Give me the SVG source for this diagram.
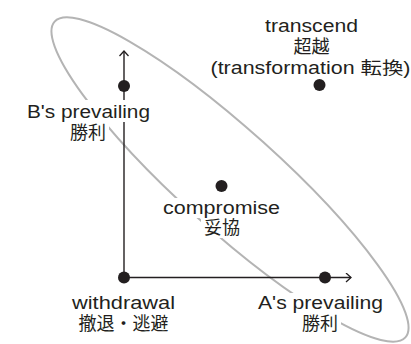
<svg xmlns="http://www.w3.org/2000/svg" width="411" height="344" viewBox="0 0 411 344">
<style>
.lat{font-family:"Liberation Sans","Noto Sans CJK JP",sans-serif;font-size:17.5px;fill:#231f20;text-anchor:middle}
.cjk{font-family:"Noto Sans CJK JP",sans-serif;font-size:18px;fill:#231f20;text-anchor:middle}
.bg{fill:#fff}
.dot{fill:#231f20}
.axis{stroke:#231f20;stroke-width:1.4;fill:none}
</style>
<defs>
<marker id="arr" markerWidth="10" markerHeight="12" refX="6" refY="5" orient="auto" markerUnits="userSpaceOnUse">
<path d="M1,0.5 L6,5 L1,9.5" fill="none" stroke="#231f20" stroke-width="1.3"/>
</marker>
</defs>
<rect width="411" height="344" fill="#fff"/>
<ellipse id="region" cx="230" cy="179.5" rx="236" ry="50" transform="rotate(42 230 179.5)" fill="none" stroke="#b4b4b4" stroke-width="2"/>
<g id="connectors">
<line class="axis" x1="124" y1="277.5" x2="124" y2="51" marker-end="url(#arr)"/>
<line class="axis" x1="124" y1="277.5" x2="351" y2="277.5" marker-end="url(#arr)"/>
</g>
<g id="transcend">
<circle class="dot" cx="319.5" cy="85" r="6"/>
<text class="lat" x="311.5" y="32" textLength="93" lengthAdjust="spacingAndGlyphs">transcend</text>
<text class="cjk" x="311.5" y="53">超越</text>
<text class="lat" x="310.5" y="73.5" textLength="200" lengthAdjust="spacingAndGlyphs">(transformation 転換)</text>
</g>
<g id="b-prevailing">
<rect class="bg" x="25" y="100" width="127" height="22"/>
<rect class="bg" x="67" y="122" width="42" height="20"/>
<circle class="dot" cx="124" cy="86" r="6"/>
<text class="lat" x="88.5" y="118" textLength="123" lengthAdjust="spacingAndGlyphs">B's prevailing</text>
<text class="cjk" x="88" y="139">勝利</text>
</g>
<g id="compromise">
<rect class="bg" x="160" y="198" width="123" height="20"/>
<rect class="bg" x="201" y="218" width="42" height="20"/>
<circle class="dot" cx="221.5" cy="186" r="6"/>
<text class="lat" x="221.5" y="214" textLength="117" lengthAdjust="spacingAndGlyphs">compromise</text>
<text class="cjk" x="222" y="234">妥協</text>
</g>
<g id="withdrawal">
<rect class="bg" x="69" y="293" width="109" height="20"/>
<rect class="bg" x="74" y="311" width="99" height="22"/>
<circle class="dot" cx="124" cy="277.5" r="6"/>
<text class="lat" x="123.5" y="309" textLength="103" lengthAdjust="spacingAndGlyphs">withdrawal</text>
<text class="cjk" x="123.5" y="329.5">撤退・逃避</text>
</g>
<g id="a-prevailing">
<rect class="bg" x="255" y="293" width="131" height="20"/>
<rect class="bg" x="299" y="311" width="42" height="22"/>
<circle class="dot" cx="325" cy="277.5" r="6"/>
<text class="lat" x="320.5" y="309" textLength="125" lengthAdjust="spacingAndGlyphs">A's prevailing</text>
<text class="cjk" x="320" y="329.5">勝利</text>
</g>
</svg>
